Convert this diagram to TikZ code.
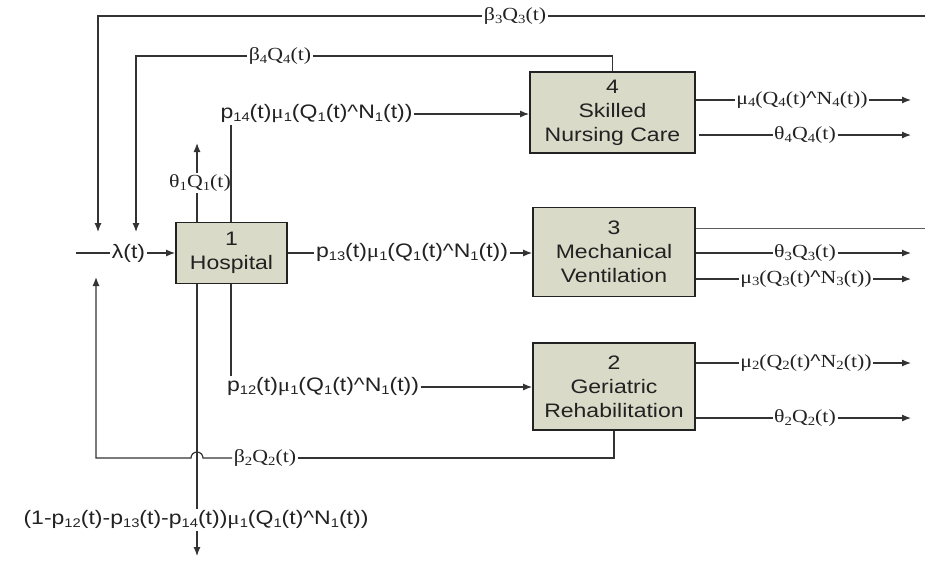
\documentclass[tikz,border=0pt]{standalone}
\usepackage{fontspec}
\setmainfont[FakeStretch=1.18]{Liberation Sans}
\newfontfamily\serlab[FakeStretch=1.18]{Liberation Serif}
\newfontfamily\caretfont[FakeStretch=1.18]{Liberation Sans}
\usetikzlibrary{arrows.meta}
% lowered index digits and the "minimum" caret
\newcommand{\ix}[1]{\raisebox{-2.5pt}{\fontsize{12.5}{12.5}\selectfont #1}}
\newcommand{\andsym}{{\caretfont\textasciicircum}}
\definecolor{boxfill}{HTML}{D9DBC8}
\definecolor{inkc}{HTML}{222222}
\definecolor{linec}{HTML}{333333}
\begin{document}
\begin{tikzpicture}[x=1pt,y=-1pt,
  stage/.style={draw=inkc, line width=1.8pt, fill=boxfill, align=center,
    text=inkc, font=\fontsize{19.5}{24}\selectfont, inner sep=0pt},
  lab/.style={inner sep=1.5pt, text=inkc, font=\fontsize{19.5}{21}\selectfont},
  slab/.style={lab, font=\serlab\fontsize{18.5}{20}\selectfont},
  flow/.style={draw=linec, line width=1.2pt},
  thinflow/.style={draw=linec!80, line width=0.9pt},
  arr/.style={flow, -{Latex[length=9pt,width=7pt]}}]
\useasboundingbox (0,0) rectangle (925,566);

% stages
\node[stage, minimum width=111pt, minimum height=61pt] (hosp) at (231.5,253) {1\\Hospital};
\node[stage, minimum width=165pt, minimum height=81pt] (b4) at (612.5,112.5) {4\\Skilled\\Nursing Care};
\node[stage, minimum width=162pt, minimum height=89pt] (b3) at (614,252) {3\\Mechanical\\Ventilation};
\node[stage, minimum width=162pt, minimum height=87pt] (b2) at (614,386.5) {2\\Geriatric\\Rehabilitation};

% flow labels
\node[slab] (lb3) at (515,16) {β\ix{3}Q\ix{3}(t)};
\node[slab] (lb4) at (280,56) {β\ix{4}Q\ix{4}(t)};
\node[lab] (lp14) at (316.5,114) {p\ix{14}(t){\serlab μ}\ix{1}(Q\ix{1}(t)\andsym N\ix{1}(t))};
\node[slab] (lth1) at (200,183) {θ\ix{1}Q\ix{1}(t)};
\node[lab] (llam) at (128.5,253) {λ(t)};
\node[lab] (lp13) at (412,253) {p\ix{13}(t){\serlab μ}\ix{1}(Q\ix{1}(t)\andsym N\ix{1}(t))};
\node[lab] (lp12) at (323,387) {p\ix{12}(t){\serlab μ}\ix{1}(Q\ix{1}(t)\andsym N\ix{1}(t))};
\node[slab] (lb2) at (265,458) {β\ix{2}Q\ix{2}(t)};
\node[lab] (lout) at (196,520) {(1-p\ix{12}(t)-p\ix{13}(t)-p\ix{14}(t)){\serlab μ}\ix{1}(Q\ix{1}(t)\andsym N\ix{1}(t))};
\node[slab] (lmu4) at (802,100) {μ\ix{4}(Q\ix{4}(t)\andsym N\ix{4}(t))};
\node[slab] (lth4) at (805,135) {θ\ix{4}Q\ix{4}(t)};
\node[slab] (lth3) at (805,253) {θ\ix{3}Q\ix{3}(t)};
\node[slab] (lmu3) at (806,279) {μ\ix{3}(Q\ix{3}(t)\andsym N\ix{3}(t))};
\node[slab] (lmu2) at (806,363) {μ\ix{2}(Q\ix{2}(t)\andsym N\ix{2}(t))};
\node[slab] (lth2) at (805,418) {θ\ix{2}Q\ix{2}(t)};

% reference verticals and free ends
\coordinate (xL) at (197,0);
\coordinate (xR) at (231,0);
\coordinate (tipx) at (911,0);
\coordinate (topR) at (925,16);
\coordinate (b3out) at (925,228);
\coordinate (b3tip) at (98,232);
\coordinate (b4tip) at (136,232);
\coordinate (lamstart) at (76,253);
\coordinate (th1tip) at (197,143);
\coordinate (outtip) at (197,556);
\coordinate (b2tip) at (96,277);

% returns from stage 3 and stage 4
\draw[flow] (lb3.east) -- (topR);
\draw[arr] (lb3.west) -| (b3tip);
\draw[thinflow] (b3.east |- b3out) -- (b3out);
\draw[flow] (lb4.east) -| (b4.north);
\draw[arr] (lb4.west) -| (b4tip);

% arrivals
\draw[flow] (lamstart) -- (llam.west);
\draw[arr] (llam.east) -- (hosp.west);

% hospital outflows
\draw[flow] (hosp.north -| xL) -- (lth1.south -| xL);
\draw[arr] (lth1.north -| xL) -- (th1tip);
\draw[flow] (hosp.north -| xR) -- (lp14.south -| xR);
\draw[arr] (lp14.east) -- (lp14.east -| b4.west);
\draw[flow] (hosp.east) -- (lp13.west);
\draw[arr] (lp13.east) -- (lp13.east -| b3.west);
\draw[flow] (hosp.south -| xR) -- (lp12.north -| xR);
\draw[arr] (lp12.east) -- (lp12.east -| b2.west);
\draw[flow] (hosp.south -| xL) -- (lout.north -| xL);
\draw[arr] (lout.south -| xL) -- (outtip);

% return from stage 2, hopping over the hospital exit line
\draw[flow] (b2.south) |- (lb2.east);
\draw[arr] (lb2.west) -- ([xshift=6pt]lb2.west -| xL)
  arc[start angle=0, end angle=-180, radius=6] -| (b2tip);

% departures from stages 4, 3, 2
\draw[flow] (lmu4.west -| b4.east) -- (lmu4.west);
\draw[arr] (lmu4.east) -- (lmu4.east -| tipx);
\draw[flow] ([xshift=3pt]lth4.west -| b4.east) -- (lth4.west);
\draw[arr] (lth4.east) -- (lth4.east -| tipx);
\draw[flow] (lth3.west -| b3.east) -- (lth3.west);
\draw[arr] (lth3.east) -- (lth3.east -| tipx);
\draw[flow] (lmu3.west -| b3.east) -- (lmu3.west);
\draw[arr] (lmu3.east) -- (lmu3.east -| tipx);
\draw[flow] (lmu2.west -| b2.east) -- (lmu2.west);
\draw[arr] (lmu2.east) -- (lmu2.east -| tipx);
\draw[flow] (lth2.west -| b2.east) -- (lth2.west);
\draw[arr] (lth2.east) -- (lth2.east -| tipx);
\end{tikzpicture}
\end{document}
